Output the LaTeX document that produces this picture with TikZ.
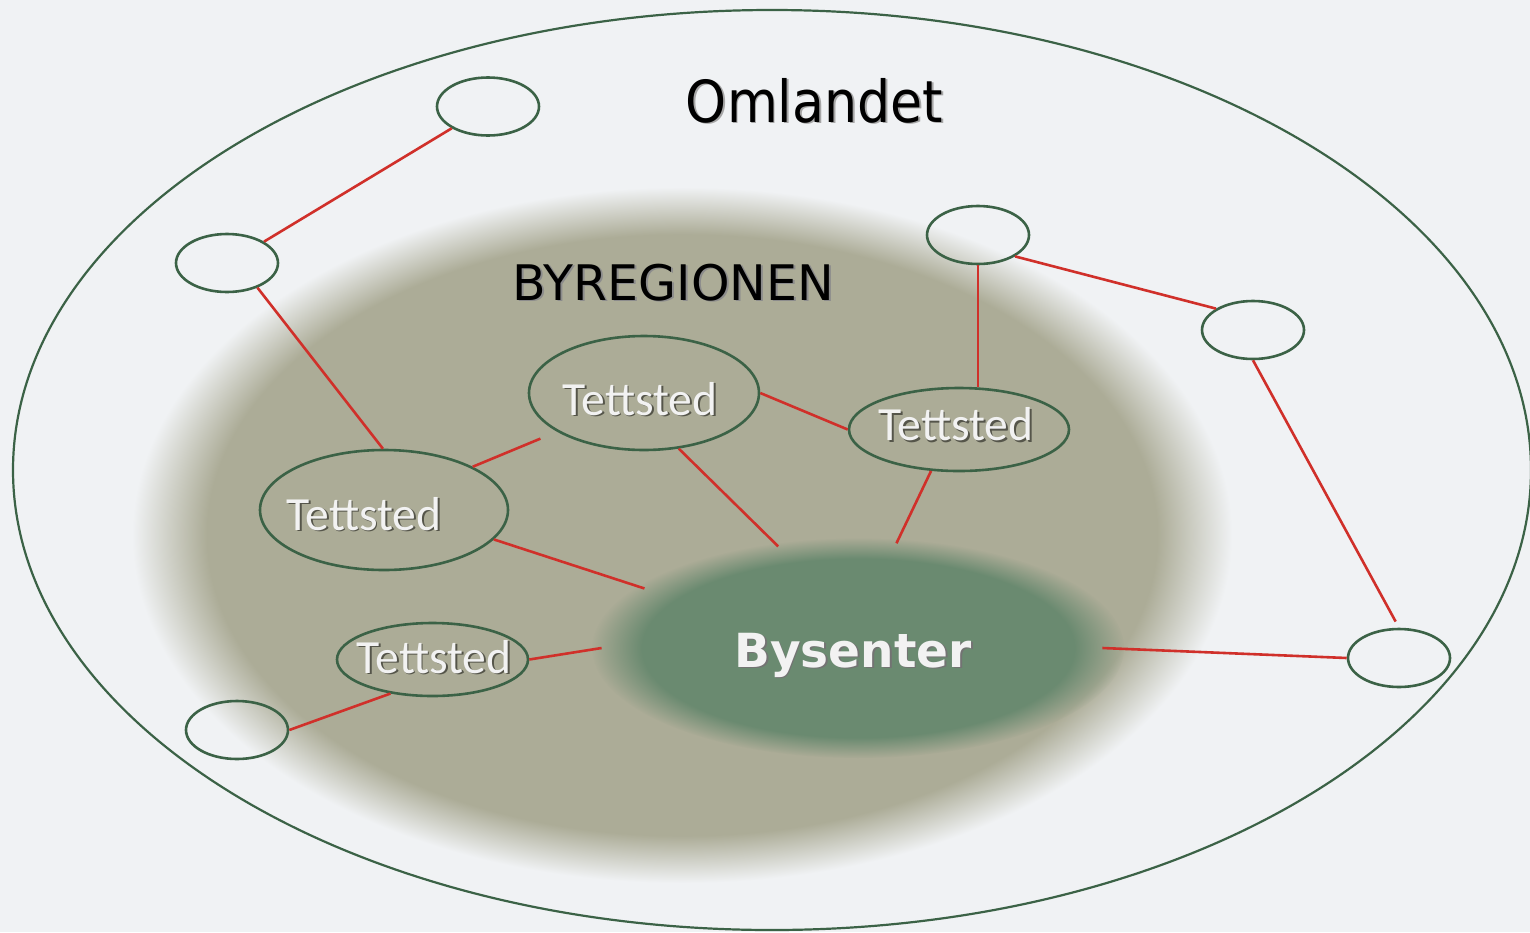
\documentclass[tikz,border=0pt]{standalone}
\usepackage{fontspec}
\setmainfont{DejaVu Sans}
\newfontfamily\condfont{DejaVu Sans Condensed}
\newfontfamily\calfont{Carlito}
\usetikzlibrary{shapes.geometric,fadings}
\definecolor{bg}{HTML}{F0F2F4}
\definecolor{olive}{HTML}{ACAC97}
\definecolor{cgreen}{HTML}{6A8A70}
\definecolor{edgec}{HTML}{3B6246}
\definecolor{linkc}{HTML}{D0302A}
\definecolor{tshadow}{HTML}{55554A}
\definecolor{lighttext}{HTML}{F2F2F2}
\pgfdeclareradialshading{olivefade}{\pgfpoint{0bp}{0bp}}{color(0bp)=(olive); color(21.6bp)=(olive); color(25bp)=(bg); color(50bp)=(bg)}
\pgfdeclareradialshading{greenmask}{\pgfpoint{0bp}{0bp}}{color(0bp)=(white); color(20.2bp)=(white); color(25bp)=(black); color(50bp)=(black)}
\pgfdeclarefading{greenfading}{\pgfuseshading{greenmask}}
\newcommand\shtext[2]{\rlap{\kern0.9pt\raisebox{-0.9pt}{\color{#2}#1}}#1}
\newcommand\placetext[3]{\smash{\makebox[0pt]{\kern#1\raisebox{#2}{\shtext{#3}{tshadow}}}}}
\begin{document}
\begin{tikzpicture}[x=0.5pt,y=-0.5pt,
  place/.style={ellipse, draw=edgec, line width=1.3pt, inner sep=0pt},
  smallplace/.style={place, minimum width=51pt, minimum height=29pt},
  town/.style={place, font=\calfont\fontsize{23.8}{26}\selectfont, text=lighttext},
  link/.style={draw=linkc, line width=1.3pt}]
\fill[bg] (0,0) rectangle (1530,932);
\useasboundingbox (0,0) rectangle (1530,932);
\draw[edgec, line width=1.1pt] (772,470) ellipse (759 and 460);
\shade[shading=olivefade] (682,535) ellipse (550 and 348);
\fill[cgreen, path fading=greenfading] (858,648) ellipse (266 and 110);

\node[anchor=base, font=\condfont\fontsize{29}{32}\selectfont] (oml) at (814.5,122) {\shtext{Omlandet}{black!35}};
\node[anchor=base, font=\fontsize{24.5}{28}\selectfont] (byr) at (673.5,300) {\shtext{BYREGIONEN}{black!45}};

\node[ellipse, inner sep=0pt, minimum width=250pt, minimum height=106pt,
      font=\bfseries\fontsize{23.5}{26}\selectfont, text=lighttext] (bys) at (852,648)
      {\smash{\makebox[0pt]{\kern1pt\raisebox{-9.5pt}{\shtext{Bysenter}{black!55}}}}};

\node[town, minimum width=115pt, minimum height=57pt] (t1) at (644,393) {\placetext{-4pt}{-11pt}{Tettsted}};
\node[town, minimum width=110pt, minimum height=41.5pt] (t2) at (959,429.5) {\placetext{-3pt}{-5.5pt}{Tettsted}};
\node[town, minimum width=124pt, minimum height=60pt] (t3) at (384,510) {\placetext{-20pt}{-10pt}{Tettsted}};
\node[town, minimum width=95.5pt, minimum height=36.5pt] (t4) at (432.5,659.5) {\placetext{1.5pt}{-6.75pt}{Tettsted}};

\node[smallplace] (a) at (488,106.5) {};
\node[smallplace] (b) at (227,263) {};
\node[smallplace] (c) at (978,235) {};
\node[smallplace] (d) at (1253,330) {};
\node[smallplace] (e) at (1399,658) {};
\node[smallplace] (f) at (237,730) {};

\draw[link] (a.211) -- (b.30);
\draw[link] (b.321) -- (t3.91);
\draw[link, shorten >=9pt] (t3.26) -- (t1.204);
\draw[link] (t1.east) -- (t2.west);
\draw[link] (t1.302) -- (bys.126);
\draw[link] (t2.236) -- (bys.67);
\draw[link] (t2.north -| c.south) -- (c.south);
\draw[link] (c.330) -- (d.150);
\draw[link, shorten >=3.5pt] (d.south) -- (e.north);
\draw[link] (bys.east) -- (e.west);
\draw[link] (t3.345) -- (bys.164);
\draw[link] (t4.east) -- (bys.west);
\draw[link] (t4.219) -- (f.east);
\end{tikzpicture}
\end{document}
